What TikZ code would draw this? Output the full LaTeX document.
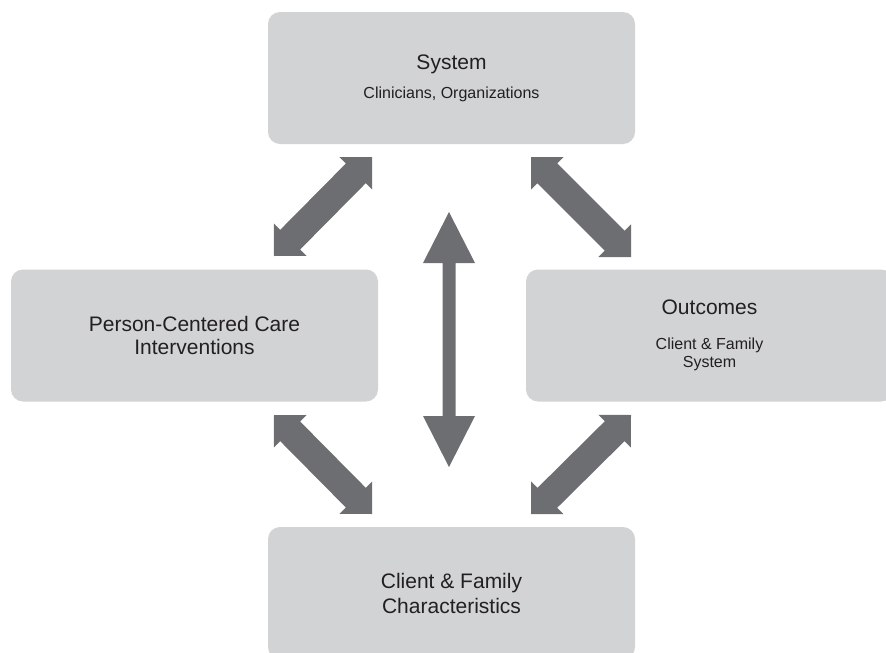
\documentclass[tikz,border=0pt]{standalone}
\usepackage{fontspec}
\setmainfont{Liberation Sans}
\usetikzlibrary{calc}

\definecolor{boxgray}{HTML}{D1D3D4}
\definecolor{arrowgray}{HTML}{6D6E71}
\definecolor{inkgray}{HTML}{231F20}

\newcommand\titlefont{\fontsize{21}{23.5}\selectfont}
\newcommand\subfont{\fontsize{16}{18.5}\selectfont}

% Filled double-headed block arrow between two named points.
% #1,#2: end points; #3: half shaft width; #4: half head width; #5: head length
\newcommand\blockarrow[5]{%
  \fill[arrowshape]
    (#1)
    -- ($(#1)!#5!(#2)!#4!90:(#2)$)
    -- ($(#1)!#5!(#2)!#3!90:(#2)$)
    -- ($(#2)!#5!(#1)!#3!-90:(#1)$)
    -- ($(#2)!#5!(#1)!#4!-90:(#1)$)
    -- (#2)
    -- ($(#2)!#5!(#1)!#4!90:(#1)$)
    -- ($(#2)!#5!(#1)!#3!90:(#1)$)
    -- ($(#1)!#5!(#2)!#3!-90:(#2)$)
    -- ($(#1)!#5!(#2)!#4!-90:(#2)$)
    -- cycle;}

\tikzset{
  panel/.style={fill=boxgray, draw=none, rounded corners=12pt,
    minimum width=367pt, minimum height=132pt, inner sep=0pt,
    align=center, text=inkgray, font=\titlefont},
  arrowshape/.style={fill=arrowgray},
}

\begin{document}
\begin{tikzpicture}[x=1pt, y=-1pt]
  \useasboundingbox (0,0) rectangle (886,653);
  \clip (0,0) rectangle (886,653);

  % the four panels
  \node[panel] (system)   at (451.5,78)
    {System\\[5.8pt]\subfont Clinicians, Organizations};
  \node[panel] (care)     at (194.5,335.5)
    {Person-Centered Care\\Interventions};
  \node[panel] (outcomes) at (709.5,335.5)
    {Outcomes\\[11pt]\subfont Client \& Family\\[-4.8pt]\subfont System};
  \node[panel] (client)   at (451.5,593)
    {Client \& Family\\[1.5pt]Characteristics};

  % arrow end points
  \coordinate (sysL)  at (372,157);
  \coordinate (careU) at (274,256);
  \coordinate (sysR)  at (531,157);
  \coordinate (outU)  at (631,257);
  \coordinate (careD) at (274,415);
  \coordinate (cliL)  at (372,514);
  \coordinate (outD)  at (631,415);
  \coordinate (cliR)  at (531,514);
  \coordinate (midU)  at (449,212);
  \coordinate (midD)  at (449,467);

  % connectors
  \blockarrow{careU}{sysL}{14pt}{23pt}{23pt}
  \blockarrow{sysR}{outU}{14pt}{23pt}{23pt}
  \blockarrow{careD}{cliL}{14pt}{23pt}{23pt}
  \blockarrow{cliR}{outD}{14pt}{23pt}{23pt}
  \blockarrow{midU}{midD}{6.5pt}{26pt}{51pt}
\end{tikzpicture}
\end{document}
